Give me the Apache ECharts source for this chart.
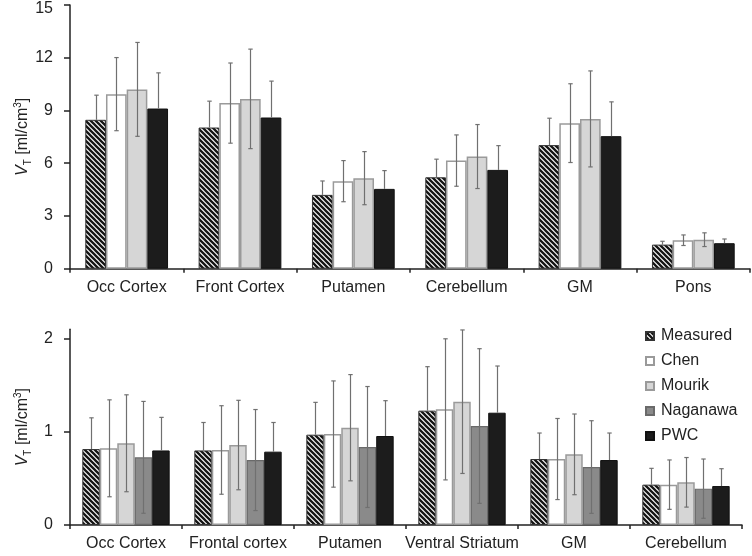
<!DOCTYPE html>
<html>
<head>
<meta charset="utf-8">
<script src="https://cdn.jsdelivr.net/npm/echarts@6/dist/echarts.min.js"></script>
<style>
html,body{margin:0;padding:0;background:#fff;}
#chart{width:752px;height:556px;}
</style>
</head>
<body>
<div id="chart"></div>
<script>
// ---- data ----
const topCategories = ['Occ Cortex', 'Front Cortex', 'Putamen', 'Cerebellum', 'GM', 'Pons'];
const topMeasured    = [8.47, 8.03, 4.20, 5.20, 7.03, 1.37];
const topMeasuredErr = [1.40, 1.50, 0.79, 1.03, 1.53, 0.19];
const topChen        = [9.93, 9.42, 4.98, 6.15, 8.28, 1.62];
const topChenErr     = [2.08, 2.28, 1.17, 1.46, 2.24, 0.30];
const topMourik      = [10.20, 9.66, 5.15, 6.38, 8.52, 1.65];
const topMourikErr   = [2.67, 2.83, 1.51, 1.82, 2.73, 0.39];
const topPWC         = [9.11, 8.60, 4.54, 5.62, 7.54, 1.45];
const topPWCErr      = [2.03, 2.07, 1.04, 1.38, 1.95, 0.24];
const topTicks = [0, 3, 6, 9, 12, 15];

const botCategories = ['Occ Cortex', 'Frontal cortex', 'Putamen', 'Ventral Striatum', 'GM', 'Cerebellum'];
const botMeasured     = [0.815, 0.800, 0.969, 1.227, 0.708, 0.433];
const botMeasuredErr  = [0.335, 0.300, 0.347, 0.472, 0.279, 0.175];
const botChen         = [0.823, 0.805, 0.976, 1.241, 0.708, 0.433];
const botChenErr      = [0.520, 0.475, 0.570, 0.757, 0.435, 0.265];
const botMourik       = [0.877, 0.858, 1.044, 1.323, 0.758, 0.458];
const botMourikErr    = [0.520, 0.480, 0.570, 0.770, 0.433, 0.266];
const botNaganawa     = [0.726, 0.697, 0.837, 1.062, 0.622, 0.390];
const botNaganawaErr  = [0.600, 0.542, 0.649, 0.830, 0.497, 0.318];
const botPWC          = [0.800, 0.787, 0.955, 1.205, 0.697, 0.418];
const botPWCErr       = [0.355, 0.313, 0.379, 0.501, 0.290, 0.186];
const botTicks = [0, 1, 2];

const seriesNames = ['Measured', 'Chen', 'Mourik', 'Naganawa', 'PWC'];

// ---- styles ----
function stripePattern() {
  const s = 5;
  const c = document.createElement('canvas');
  c.width = s; c.height = s;
  const ctx = c.getContext('2d');
  ctx.fillStyle = '#fff';
  ctx.fillRect(0, 0, s, s);
  ctx.strokeStyle = '#151515';
  ctx.lineWidth = 2.3;
  [-s, 0, s].forEach(function (off) {
    ctx.beginPath();
    ctx.moveTo(-1, -1 + off);
    ctx.lineTo(s + 1, s + 1 + off);
    ctx.stroke();
  });
  return c;
}
const styles = {
  Measured: { color: { image: stripePattern(), repeat: 'repeat' }, borderColor: '#333', borderWidth: 1, low: false },
  Chen:     { color: '#ffffff', borderColor: '#9a9a9a', borderWidth: 1.5, low: true },
  Mourik:   { color: '#d6d6d6', borderColor: '#9a9a9a', borderWidth: 1.5, low: true },
  Naganawa: { color: '#8a8a8a', borderColor: '#6a6a6a', borderWidth: 1.2, low: true },
  PWC:      { color: '#1c1c1c', borderColor: '#111', borderWidth: 1, low: false }
};

const font = '"Liberation Sans", Arial, Helvetica, sans-serif';
const txt = '#222';

function makeErrSeries(name, vals, errs, gridIdx, k, n, gap, showLow) {
  return {
    type: 'custom',
    name: 'err-' + name + gridIdx,
    xAxisIndex: gridIdx, yAxisIndex: gridIdx,
    z: 5,
    silent: true,
    encode: { x: 0, y: 1 },
    data: vals.map(function (v, i) { return [i, v, errs[i]]; }),
    renderItem: function (params, api) {
      const ci = api.value(0), v = api.value(1), e = api.value(2);
      const c = api.coord([ci, v]);
      const bw = api.size([1, 0])[0];
      const total = bw * (1 - gap);
      const each = total / n;
      const x = Math.round(c[0] - total / 2 + (k + 0.5) * each) + 0.5;
      const yTop = api.coord([ci, v + e])[1];
      const yLow = showLow ? api.coord([ci, v - e])[1] : c[1];
      const st = { stroke: '#707070', lineWidth: 1.2 };
      const cap = 2.2;
      const children = [
        { type: 'line', shape: { x1: x, y1: yTop, x2: x, y2: yLow }, style: st },
        { type: 'line', shape: { x1: x - cap, y1: yTop, x2: x + cap, y2: yTop }, style: st }
      ];
      if (showLow) children.push({ type: 'line', shape: { x1: x - cap, y1: yLow, x2: x + cap, y2: yLow }, style: st });
      return { type: 'group', children: children };
    }
  };
}

function makeBar(name, vals, gridIdx, gap) {
  const s = styles[name];
  return {
    type: 'bar', name: name,
    xAxisIndex: gridIdx, yAxisIndex: gridIdx,
    barGap: '0%', barCategoryGap: (gap * 100) + '%',
    z: 2,
    itemStyle: { color: s.color, borderColor: s.borderColor, borderWidth: s.borderWidth },
    emphasis: { disabled: true },
    data: vals
  };
}

const topGap = 0.27, botGap = 0.22;
const topSets = [['Measured', topMeasured, topMeasuredErr], ['Chen', topChen, topChenErr], ['Mourik', topMourik, topMourikErr], ['PWC', topPWC, topPWCErr]];
const botSets = [['Measured', botMeasured, botMeasuredErr], ['Chen', botChen, botChenErr], ['Mourik', botMourik, botMourikErr], ['Naganawa', botNaganawa, botNaganawaErr], ['PWC', botPWC, botPWCErr]];

const series = [];
topSets.forEach(function (d) { series.push(makeBar(d[0], d[1], 0, topGap)); });
botSets.forEach(function (d) { series.push(makeBar(d[0], d[1], 1, botGap)); });
topSets.forEach(function (d, k) { series.push(makeErrSeries(d[0], d[1], d[2], 0, k, topSets.length, topGap, styles[d[0]].low)); });
botSets.forEach(function (d, k) { series.push(makeErrSeries(d[0], d[1], d[2], 1, k, botSets.length, botGap, styles[d[0]].low)); });

const axisLine = { show: true, lineStyle: { color: '#222', width: 1.5 } };
const yName = '{i|V}{sub|T}{n| [ml/cm}{sup|3}{n|]}';
const yNameStyle = {
  color: txt, fontFamily: font,
  rich: {
    i: { fontSize: 16, fontStyle: 'italic', fontFamily: font, color: txt, lineHeight: 20, verticalAlign: 'middle' },
    sub: { fontSize: 10, fontFamily: font, color: txt, lineHeight: 10, verticalAlign: 'bottom' },
    n: { fontSize: 16, fontFamily: font, color: txt, lineHeight: 20, verticalAlign: 'middle' },
    sup: { fontSize: 10, fontFamily: font, color: txt, lineHeight: 10, verticalAlign: 'top' }
  }
};

function xAxis(cats, gridIdx) {
  return {
    type: 'category', gridIndex: gridIdx, data: cats,
    axisLine: axisLine,
    axisTick: { show: true, length: 4, lineStyle: { color: '#222', width: 1.5 } },
    axisLabel: { color: txt, fontSize: 16, fontFamily: font, margin: 11, interval: 0 },
    splitLine: { show: false }
  };
}
function yAxis(gridIdx, max, interval, ticks) {
  return {
    type: 'value', gridIndex: gridIdx, min: 0, max: max, interval: interval,
    name: yName, nameLocation: 'middle', nameRotate: 90, nameGap: 37,
    nameMoveOverlap: false,
    nameTextStyle: yNameStyle,
    axisLine: axisLine,
    axisTick: { show: true, length: 6, lineStyle: { color: '#222', width: 1.5 }, customValues: ticks },
    axisLabel: {
      color: txt, fontSize: 16, fontFamily: font, margin: 17, customValues: ticks,
      formatter: function (v) { return v === max ? '{t|' + v + '}' : String(v); },
      rich: { t: { fontSize: 16, fontFamily: font, color: txt, padding: [8, 0, 0, 0] } }
    },
    splitLine: { show: false }
  };
}

const chart = echarts.init(document.getElementById('chart'), null, { renderer: 'canvas' });
chart.setOption({
  animation: false,
  backgroundColor: '#fff',
  textStyle: { fontFamily: font },
  grid: [
    { left: 70, right: 2, top: 5, height: 263.7, containLabel: false, outerBoundsMode: 'none' },
    { left: 70, right: 10, top: 329.3, height: 195.7, containLabel: false, outerBoundsMode: 'none' }
  ],
  legend: {
    data: seriesNames,
    orient: 'vertical',
    left: 645, top: 328, padding: 0,
    itemWidth: 8, itemHeight: 8, itemGap: 9,
    icon: 'rect',
    textStyle: { fontSize: 16, color: txt, fontFamily: font, padding: [0, 0, 0, 2] },
    selectedMode: false
  },
  xAxis: [xAxis(topCategories, 0), xAxis(botCategories, 1)],
  yAxis: [yAxis(0, 15, 3, topTicks), yAxis(1, 2.1, 1, botTicks)],
  series: series
});
</script>
</body>
</html>
